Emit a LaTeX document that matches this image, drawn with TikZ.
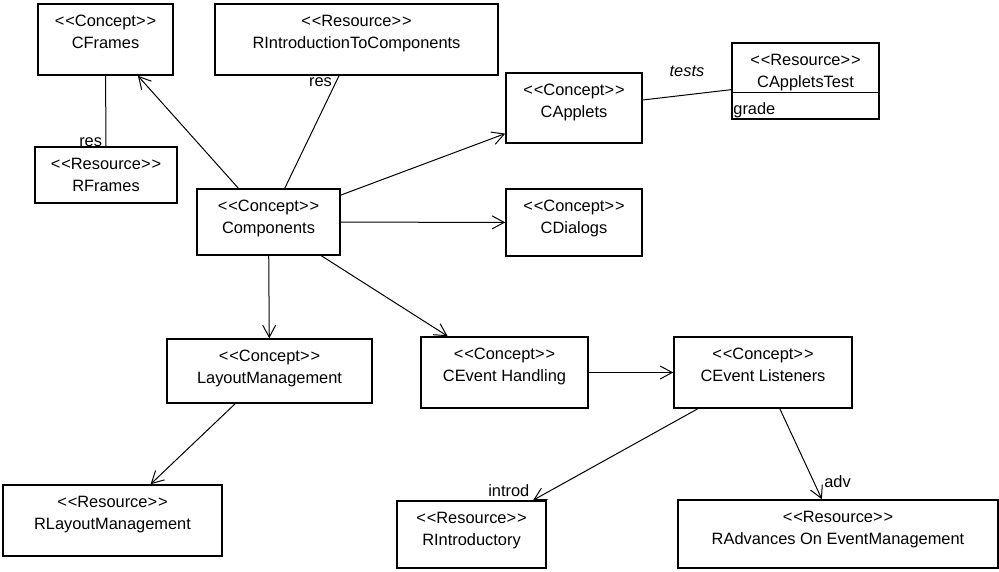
\documentclass[tikz,border=0pt]{standalone}
\usepackage{fontspec}
\setmainfont{Liberation Sans}
\usepackage{tikz}
\usetikzlibrary{arrows.meta}
\newcommand{\stereo}[1]{<\kern1pt<#1>\kern1pt>}
\tikzset{cls/.style 2 args={draw, line width=1.6pt, minimum width=#1pt, minimum height=#2pt, inner sep=0pt}}
\tikzset{txt/.style={anchor=north, align=center, inner sep=0pt, yshift=-12pt}}
\tikzset{assoc/.style={line width=1pt}}
\tikzset{dep/.style={line width=1pt, -{Straight Barb[length=12pt, width=13pt, line width=1pt]}}}
\tikzset{every node/.append style={font=\fontsize{16.4}{21.5}\selectfont}}

\begin{document}
\begin{tikzpicture}[x=1pt, y=-1pt]
  \useasboundingbox (0,0) rectangle (999,571);
  \node (cframes) at (105.5,39.5)[cls={135}{71}, label={[txt]north:{\stereo{Concept}\\CFrames}}]{};
  \node (rintro) at (356.5,39.5)[cls={283}{71}, label={[txt]north:{\stereo{Resource}\\RIntroductionToComponents}}]{};
  \node (rframes) at (106,175)[cls={142}{56}, label={[txt]north:{\stereo{Resource}\\RFrames}}]{};
  \node (components) at (268.5,222)[cls={143}{66}, label={[txt]north:{\stereo{Concept}\\Components}}]{};
  \node (capplets) at (574,108)[cls={136}{70}, label={[txt]north:{\stereo{Concept}\\CApplets}}]{};
  \node (cappletstest) at (805.5,81)[cls={147}{76}, label={[txt]north:{\stereo{Resource}\\CAppletsTest}},
    label={[anchor=south west, inner sep=2pt]south west:grade}]{};
  \node (cdialogs) at (574,222.5)[cls={136}{67}, label={[txt]north:{\stereo{Concept}\\CDialogs}}]{};
  \node (layout) at (269.5,371)[cls={205}{64}, label={[txt]north:{\stereo{Concept}\\LayoutManagement}}]{};
  \node (cevhandling) at (504.5,372.5)[cls={167}{71}, label={[txt]north:{\stereo{Concept}\\CEvent Handling}}]{};
  \node (cevlisteners) at (763,372.5)[cls={178}{71}, label={[txt]north:{\stereo{Concept}\\CEvent Listeners}}]{};
  \node (rlayout) at (112.5,520.5)[cls={219}{71}, label={[txt]north:{\stereo{Resource}\\RLayoutManagement}}]{};
  \node (rintroductory) at (471.5,534.5)[cls={149}{67}, label={[txt]north:{\stereo{Resource}\\RIntroductory}}]{};
  \node (radvances) at (838,534)[cls={320}{68}, label={[txt]north:{\stereo{Resource}\\RAdvances On EventManagement}}]{};

  \draw [line width=1.3pt]([yshift=-50pt]cappletstest.north west) -- ([yshift=-50pt]cappletstest.north east);

  \draw [assoc](cframes) -- (rframes) node [pos=0.94, left] (resf) {res};
  \draw [assoc](components) -- (rintro) node [pos=0.94, left] (resi) {res};
  \draw [assoc](capplets) -- (cappletstest) node [midway, above=14pt] (tests) {\itshape tests};
  \draw [dep](components) -- (cframes);
  \draw [dep](components) -- (capplets);
  \draw [dep](components) -- (cdialogs);
  \draw [dep](components) -- (layout);
  \draw [dep](components) -- (cevhandling);
  \draw [dep](layout) -- (rlayout);
  \draw [dep](cevhandling) -- (cevlisteners);
  \draw [dep](cevlisteners) -- (rintroductory) node [at end, anchor=south east] (introd) {introd};
  \draw [dep](cevlisteners) -- (radvances) node [pos=0.92, anchor=south west, xshift=2pt] (adv) {adv};
\end{tikzpicture}
\end{document}
